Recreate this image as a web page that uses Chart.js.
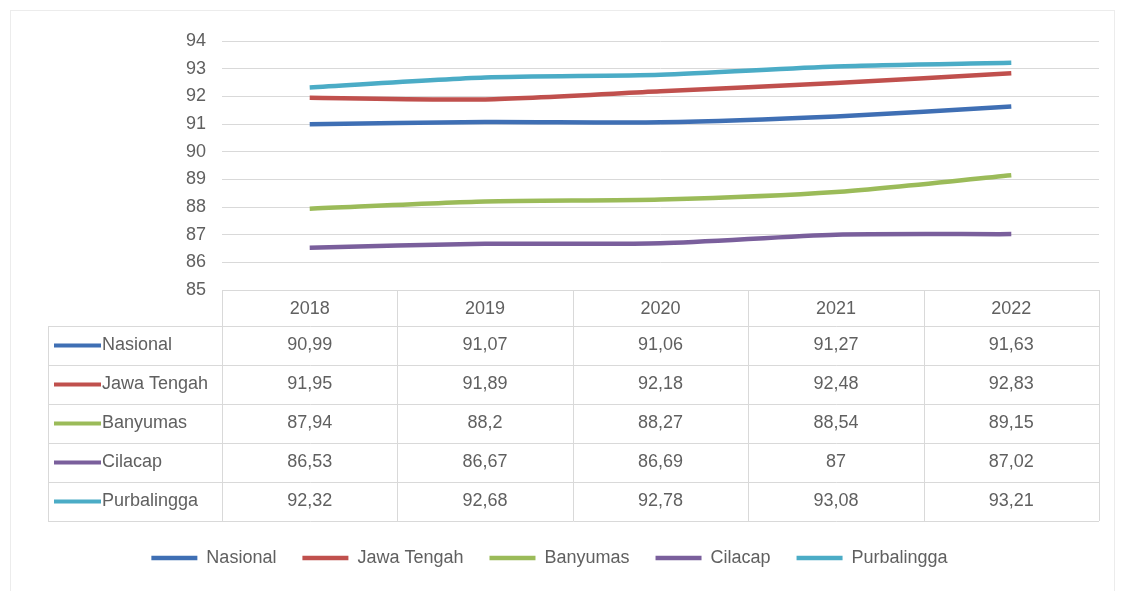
<!DOCTYPE html>
<html>
<head>
<meta charset="utf-8">
<script src="https://cdn.jsdelivr.net/npm/chart.js"></script>
<style>
  html, body { margin: 0; padding: 0; background: #fff; }
  #wrap { position: relative; width: 1121px; height: 591px; }
</style>
</head>
<body>
<div id="wrap"><canvas id="chart" width="1121" height="591"></canvas></div>
<script>
// data
const years = ["2018", "2019", "2020", "2021", "2022"];
const seriesNames = ["Nasional", "Jawa Tengah", "Banyumas", "Cilacap", "Purbalingga"];
const nasional    = [90.99, 91.07, 91.06, 91.27, 91.63];
const jawaTengah  = [91.95, 91.89, 92.18, 92.48, 92.83];
const banyumas    = [87.94, 88.2, 88.27, 88.54, 89.15];
const cilacap     = [86.53, 86.67, 86.69, 87, 87.02];
const purbalingga = [92.32, 92.68, 92.78, 93.08, 93.21];
const yTicks = [85, 86, 87, 88, 89, 90, 91, 92, 93, 94];

const colors = ["#3f6fb4", "#c0504d", "#9bbb59", "#7a5f9c", "#4bacc6"];
const allSeries = [nasional, jawaTengah, banyumas, cilacap, purbalingga];

const FONT = "'Liberation Sans', Arial, sans-serif";
const TEXT = "#606060";
const GRID = "#d9d9d9";

// comma decimal like the source table
function fmt(v) { return String(v).replace(".", ","); }

// draws the frame, the data table and its legend keys
const tablePlugin = {
  id: "dataTable",
  beforeDraw(chart) {
    const c = chart.ctx;
    c.save();
    c.strokeStyle = "#ececec";
    c.lineWidth = 1;
    c.strokeRect(10.5, 10.5, 1104, 590);
    c.restore();
  },
  afterDraw(chart) {
    const c = chart.ctx;
    const area = chart.chartArea;
    const x = chart.scales.x;
    const top = area.bottom;
    const headH = 36, rowH = 39;
    const tableLeft = 48;
    const colW = (area.right - area.left) / years.length;
    const bottom = top + headH + rowH * seriesNames.length;

    c.save();
    c.strokeStyle = GRID;
    c.lineWidth = 1;
    c.beginPath();
    c.moveTo(area.left, top + 0.5); c.lineTo(area.right, top + 0.5);
    for (let r = 0; r <= seriesNames.length; r++) {
      const y = Math.round(top + headH + r * rowH) + 0.5;
      c.moveTo(tableLeft, y); c.lineTo(area.right, y);
    }
    c.moveTo(tableLeft + 0.5, top + headH); c.lineTo(tableLeft + 0.5, bottom);
    for (let i = 0; i <= years.length; i++) {
      const xx = Math.round(area.left + i * colW) + 0.5;
      c.moveTo(xx, top); c.lineTo(xx, bottom);
    }
    c.stroke();

    c.font = "18px " + FONT;
    c.fillStyle = TEXT;
    c.textBaseline = "middle";
    c.textAlign = "center";
    years.forEach((yr, i) => {
      c.fillText(yr, x.getPixelForValue(i), top + headH / 2 + 1);
    });
    seriesNames.forEach((name, r) => {
      const cy = top + headH + r * rowH + rowH / 2;
      c.strokeStyle = colors[r];
      c.lineWidth = 4;
      c.beginPath();
      c.moveTo(54, cy); c.lineTo(101, cy);
      c.stroke();
      c.textAlign = "left";
      c.fillText(name, 102, cy);
      c.textAlign = "center";
      allSeries[r].forEach((v, i) => {
        c.fillText(fmt(v), x.getPixelForValue(i), cy);
      });
    });
    c.restore();
  }
};

new Chart(document.getElementById("chart"), {
  type: "line",
  data: {
    labels: years,
    datasets: seriesNames.map((name, i) => ({
      label: name,
      data: allSeries[i],
      borderColor: colors[i],
      backgroundColor: colors[i],
      borderWidth: 4.5,
      pointRadius: 0,
      tension: 0.25,
      pointStyle: "line"
    }))
  },
  options: {
    responsive: false,
    animation: false,
    layout: { padding: { top: 41, right: 22, bottom: 14, left: 0 } },
    plugins: {
      tooltip: { enabled: false },
      legend: {
        position: "bottom",
        labels: {
          usePointStyle: true,
          pointStyleWidth: 46,
          boxHeight: 14,
          padding: 26,
          color: TEXT,
          font: { family: FONT, size: 18 }
        }
      }
    },
    scales: {
      x: {
        offset: true,
        grid: { display: false },
        border: { display: false },
        ticks: { display: false },
        afterFit(s) { s.height = 233; }
      },
      y: {
        min: 85,
        max: 94,
        afterBuildTicks(s) { s.ticks = yTicks.map(v => ({ value: v })); },
        afterFit(s) { s.width = 222; },
        grid: {
          color: GRID,
          drawTicks: false
        },
        border: { display: false },
        ticks: {
          padding: 16,
          color: TEXT,
          font: { family: FONT, size: 18 }
        }
      }
    }
  },
  plugins: [tablePlugin]
});
</script>
</body>
</html>
